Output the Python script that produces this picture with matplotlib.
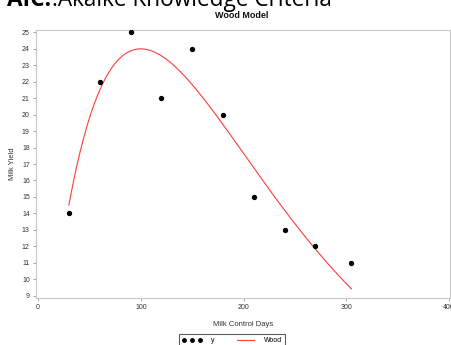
import numpy as np
import matplotlib
matplotlib.use("Agg")
import matplotlib.pyplot as plt
from matplotlib.lines import Line2D

days = [30, 60, 90, 120, 150, 180, 210, 240, 270, 305]
milk_yield = [14, 22, 25, 21, 24, 20, 15, 13, 12, 11]
# Wood model parameters (y = a * t^b * exp(-c t)), as fitted in the chart
wood_a, wood_b, wood_c = 0.651, 1.0008, 0.010014
curve_range = (30, 305)
x_ticks = [0, 100, 200, 300, 400]
y_ticks = list(range(9, 26))

plt.rcParams['font.family'] = ['Liberation Sans', 'DejaVu Sans']

fig = plt.figure(figsize=(4.52, 3.45), dpi=100)
ax = fig.add_axes([36/452, 1-297.7/345, (450-36)/452, (297.7-30)/345])

t = np.linspace(curve_range[0], curve_range[1], 300)
wood = wood_a * t**wood_b * np.exp(-wood_c * t)
ax.plot(t, wood, color='#ff3b3b', lw=0.8, zorder=2)
ax.scatter(days, milk_yield, s=8, color='black', zorder=3)

ax.set_xlim(-2, 401)
ax.set_ylim(8.87, 25.15)
ax.set_xticks(x_ticks)
ax.set_yticks(y_ticks)
ax.tick_params(labelsize=5, colors='#333333', length=2.5, width=0.6, pad=2)
for lab in ax.get_xticklabels() + ax.get_yticklabels():
    lab.set_color('#333333')
for sp in ax.spines.values():
    sp.set_color('#c8c8c8')
    sp.set_linewidth(0.8)
ax.tick_params(color='#999999')

ax.set_xlabel('Milk Control Days', fontsize=5.5, color='#333333', labelpad=7)
ax.set_ylabel('Milk Yield', fontsize=5.5, color='#333333', labelpad=4)

fig.text(242/452, 1-15/345, 'Wood Model', ha='center', va='center',
         fontsize=6.5, fontweight='bold', color='#111111')

# Header text (partially cut off at the top)
h1 = fig.text(7/452, 1-6/345, 'AIC:', ha='left', va='baseline', fontsize=16.3,
              fontweight='bold', family=['Open Sans', 'DejaVu Sans'], color='black')
fig.canvas.draw()
bb = h1.get_window_extent(renderer=fig.canvas.get_renderer())
fig.text((bb.x1 + 1) / fig.bbox.width, 1-6/345, ':Akaike Knowledge Criteria',
         ha='left', va='baseline', fontsize=16.3,
         family=['Open Sans', 'DejaVu Sans'], color='black')

handles = [Line2D([], [], ls='none', marker='o', ms=2.5, color='black'),
           Line2D([], [], color='#ff3b3b', lw=0.8)]
leg = fig.legend(handles, ['y', 'Wood'], loc='upper center',
                 bbox_to_anchor=(232/452, 1-331/345), ncol=2, fontsize=5,
                 frameon=True, fancybox=False, numpoints=3, handlelength=3,
                 borderpad=0.4, columnspacing=3, handletextpad=1.2)
leg.get_frame().set_edgecolor('#333333')
leg.get_frame().set_linewidth(0.8)

fig.savefig('out.png', dpi=100)
